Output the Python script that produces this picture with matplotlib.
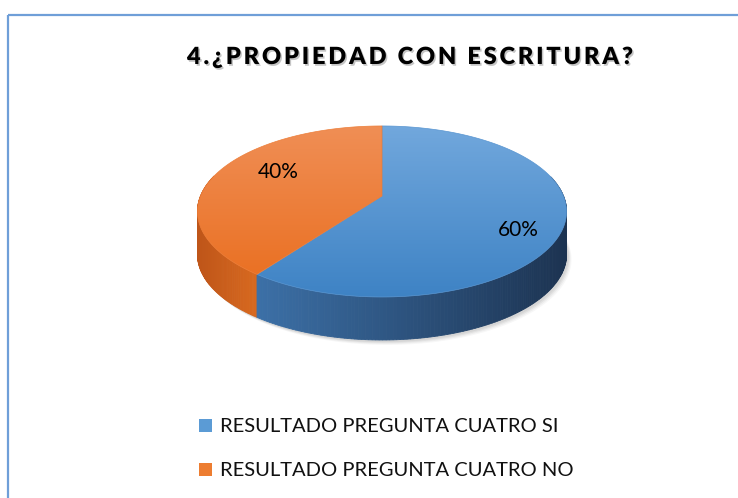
import numpy as np
import matplotlib.pyplot as plt
import matplotlib.patheffects as pe
from matplotlib.patches import Polygon, Rectangle
from matplotlib.colors import to_rgb
from matplotlib.path import Path
from matplotlib.transforms import Affine2D
from matplotlib.textpath import TextToPath
from matplotlib import font_manager as fm
from matplotlib.ft2font import FT2Font

# datos
title = "4.¿PROPIEDAD CON ESCRITURA?"
labels = ["RESULTADO PREGUNTA CUATRO SI", "RESULTADO PREGUNTA CUATRO NO"]
values = [60, 40]

# estilos
top_colors = [("#72a8dd", "#3d82c4"), ("#f08f56", "#e96c1c")]
side_colors = [("#3c70a7", "#1c3351"), ("#be5519", "#d8691f")]
legend_colors = ["#5b9bd5", "#ed7d31"]
label_pos = [(518, 236), (278, 178)]  # baseline de los porcentajes

W, H = 738, 498
fig = plt.figure(figsize=(W / 100, H / 100), dpi=100)
ax = fig.add_axes([0, 0, 1, 1])
ax.axis('off')

# geometria del pastel 3D (pixeles)
cx, cy = 382, 196
A, B, k = 181.5, 82.7, 0.181
depth = 43


def rim(theta, r=1.0):
    t = np.radians(theta)
    u, v = r * np.cos(t), -r * np.sin(t)
    w = 1 - k * v
    return cx + A * u / w, cy + B * v / w


def mix(c0, c1, t):
    a, b = np.array(to_rgb(c0)), np.array(to_rgb(c1))
    return tuple(a * (1 - t) + b * t)


# angulos de cada porcion, empezando arriba y en sentido horario
total = sum(values)
starts, ends = [], []
a0 = 90.0
for v in values:
    a1 = a0 - 360.0 * v / total
    starts.append(a0)
    ends.append(a1)
    a0 = a1

# sombra suave
th = np.linspace(0, 360, 200)
sx, sy = rim(th)
for i, a in enumerate([0.05, 0.05, 0.04, 0.03]):
    ax.add_patch(Polygon(np.c_[sx + 2 + i, sy + depth + 2 + i], closed=True,
                         facecolor='black', edgecolor='none', alpha=a))

# caras laterales (tiras), de atras hacia adelante
strips = []
for i in range(len(values)):
    th = np.linspace(starts[i], ends[i], 240)
    xs, ys = rim(th)
    vis = -np.sin(np.radians(th)) > -0.25
    xv = xs[vis]
    xmin, xmax = xv.min(), xv.max()
    for j in range(len(th) - 1):
        vm = -np.sin(np.radians((th[j] + th[j + 1]) / 2))
        if vm < -0.25:
            continue
        t = np.clip(((xs[j] + xs[j + 1]) / 2 - xmin) / (xmax - xmin), 0, 1)
        col = mix(side_colors[i][0], side_colors[i][1], t)
        quad = [(xs[j], ys[j]), (xs[j + 1], ys[j + 1]),
                (xs[j + 1], ys[j + 1] + depth), (xs[j], ys[j] + depth)]
        strips.append((vm, quad, col))
strips.sort(key=lambda s: s[0])
for vm, quad, col in strips:
    ax.add_patch(Polygon(quad, closed=True, facecolor=col, edgecolor=col, lw=0.6))

# caras superiores con degradado
for i in range(len(values)):
    th = np.linspace(starts[i], ends[i], 240)
    xs, ys = rim(th)
    pts = np.vstack([[cx, cy], np.c_[xs, ys]])
    poly = Polygon(pts, closed=True, facecolor='none', edgecolor='none')
    ax.add_patch(poly)
    ex0, ex1 = pts[:, 0].min(), pts[:, 0].max()
    # degradado vertical referido a toda la elipse
    gt = np.linspace(0, 1, 256)[:, None]
    c0, c1 = np.array(to_rgb(top_colors[i][0])), np.array(to_rgb(top_colors[i][1]))
    grad = (c0 * (1 - gt) + c1 * gt)[:, None, :]
    im = ax.imshow(grad, extent=(ex0 - 2, ex1 + 2, 300, 124), origin='upper',
                   aspect='auto', interpolation='bilinear', zorder=2)
    im.set_clip_path(poly)
    ax.add_patch(Polygon(pts, closed=True, facecolor='none',
                         edgecolor=mix(top_colors[i][0], top_colors[i][1], 0.5),
                         lw=0.5, zorder=2))

# porcentajes
for i, v in enumerate(values):
    ax.text(label_pos[i][0], label_pos[i][1], f"{v / total:.0%}", fontsize=15,
            family='Lato', ha='center', va='baseline', color='black', zorder=5)


# titulo: un solo texto, dibujado con espaciado entre letras y sombra
class Espaciado(pe.AbstractPathEffect):
    def __init__(self, path, offset=(1.5, -1.8), color='#808080', alpha=0.45):
        super().__init__()
        self.path = path
        self.sh_offset = offset
        self.sh_color = color
        self.sh_alpha = alpha

    def draw_path(self, renderer, gc, tpath, affine, rgbFace=None):
        gc0 = renderer.new_gc()
        gc0.copy_properties(gc)
        gc0.set_linewidth(0)
        gc0.set_alpha(self.sh_alpha)
        renderer.draw_path(gc0, self.path,
                           affine + Affine2D().translate(*self.sh_offset),
                           to_rgb(self.sh_color))
        gc0.restore()
        renderer.draw_path(gc, self.path, affine, rgbFace)


fp = fm.FontProperties(family='Lato', weight='heavy', size=17)
t2p = TextToPath()
font = FT2Font(fm.findfont(fp))
font.set_size(t2p.FONT_SCALE, t2p.DPI)
adv = [font.load_char(ord(ch)).linearHoriAdvance / 65536 for ch in title]
escala = (17 * 100 / 72) / t2p.FONT_SCALE  # unidades de path -> pixeles
track = (446 / escala - sum(adv)) / (len(title) - 1)
verts, codes = [], []
xo = 0.0
for ch, a in zip(title, adv):
    v, c = t2p.get_text_path(fp, ch)
    if len(v):
        verts.append(np.asarray(v, float) + [xo, 0])
        codes.append(np.asarray(c))
    xo += a + track
title_path = Path(np.vstack(verts), np.concatenate(codes))

ax.text(187, 64, title, fontproperties=fp, color='black', ha='left',
        va='baseline', zorder=5, path_effects=[Espaciado(title_path)])

# leyenda
for i, lab in enumerate(labels):
    yb = 432 + 44 * i
    ax.add_patch(Rectangle((199, yb - 13), 13, 13, facecolor=legend_colors[i],
                           edgecolor='none', zorder=5))
    ax.text(220, yb, lab, fontsize=14.5, family='Lato', ha='left', va='baseline',
            color='#111111', zorder=5)

# borde del area del grafico
ax.plot([8, W], [15, 15], color='#6f9fd8', lw=1.6, solid_capstyle='butt')
ax.plot([8, 8], [15, H], color='#6f9fd8', lw=1.6, solid_capstyle='butt')

ax.set_xlim(0, W)
ax.set_ylim(H, 0)
fig.savefig("out.png", dpi=100)
